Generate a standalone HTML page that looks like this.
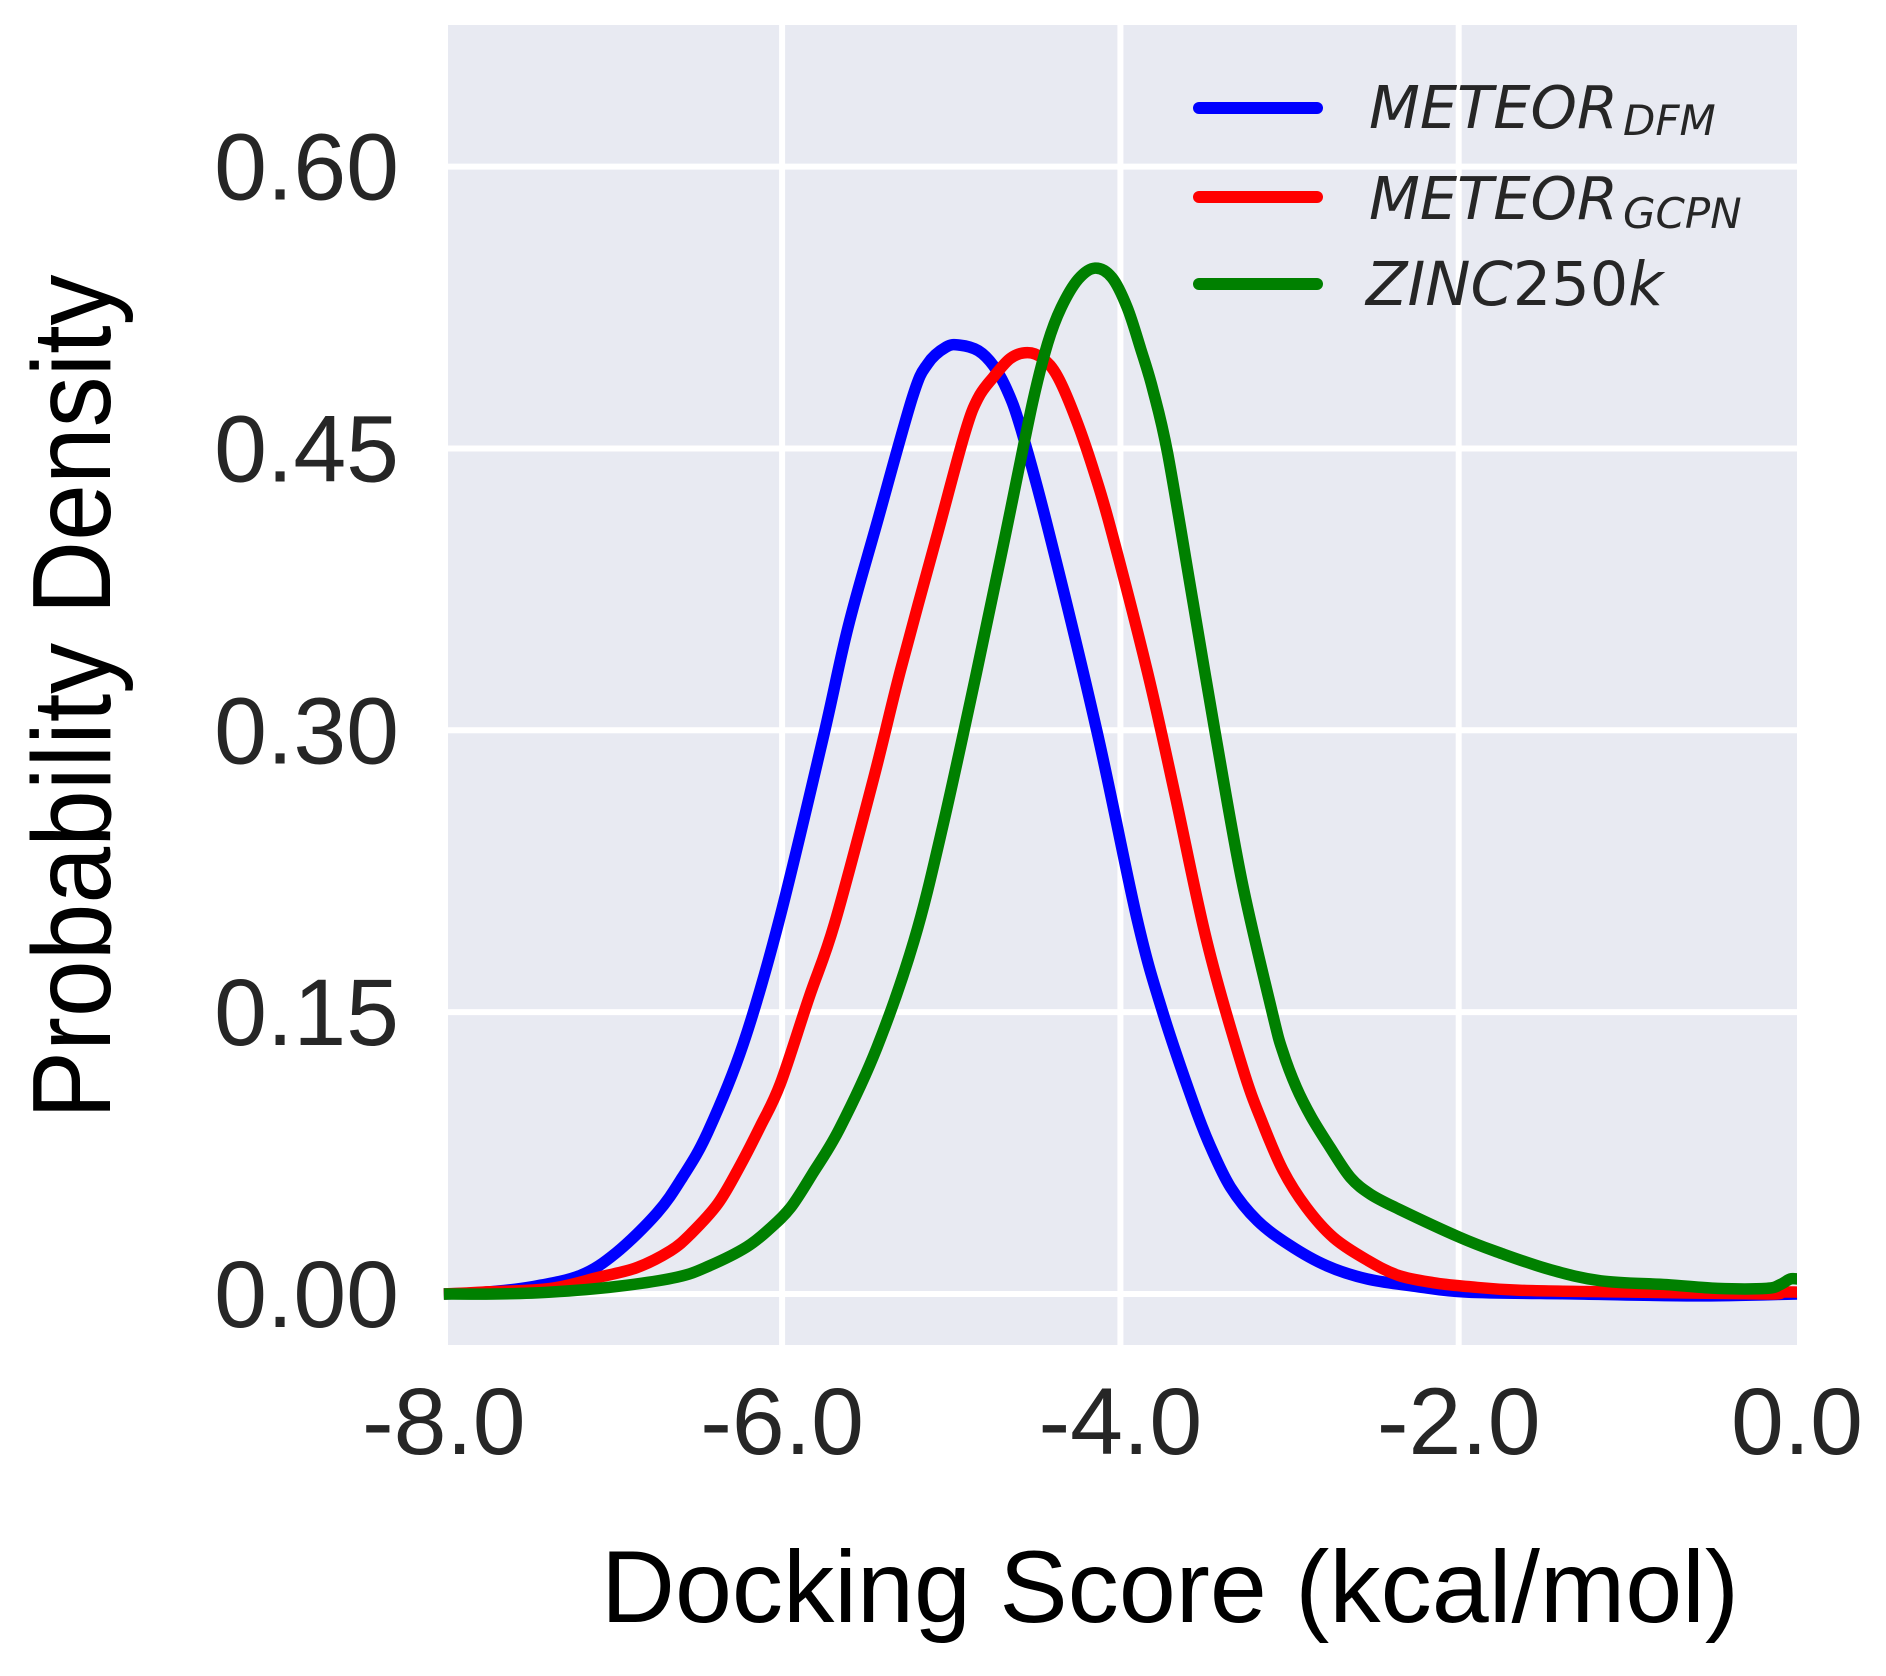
<!DOCTYPE html>
<html lang="en">
<head>
<meta charset="utf-8">
<title>Docking Score Probability Density</title>
<style>
html,body{margin:0;padding:0;background:#fff;width:1886px;height:1676px;overflow:hidden}
svg{display:block}
text{font-family:"Liberation Sans",Arial,sans-serif}
.tick{font-size:95px;fill:#262626}
.axis-title{fill:#000}
.lg{font-family:"DejaVu Sans",sans-serif;font-style:italic;fill:#262626;font-size:59px}
.lgs{font-family:"DejaVu Sans",sans-serif;font-style:italic;fill:#262626;font-size:42px}
</style>
</head>
<body>
<svg id="chart" xmlns="http://www.w3.org/2000/svg" width="1886" height="1676" viewBox="0 0 1886 1676">
  <rect x="448" y="25" width="1349" height="1320" fill="#e8eaf2"/>
  <g id="grid"></g>
  <g id="series"></g>
  <g id="xticks"></g>
  <g id="yticks"></g>
  <text class="axis-title" x="601" y="1622" font-size="102.4">Docking Score (kcal/mol)</text>
  <text class="axis-title" transform="translate(110,1119) rotate(-90) scale(1,1.09)" x="0" y="0" font-size="102">Probability Density</text>
  <g>
    <g>
      <line x1="1199" x2="1317" y1="108" y2="108" stroke="#0000ff" stroke-width="12" stroke-linecap="round"/>
      <text class="lg" x="1369" y="128">METEOR</text>
      <text class="lgs" x="1623" y="135">DFM</text>
    </g>
    <g>
      <line x1="1199" x2="1317" y1="197" y2="197" stroke="#ff0000" stroke-width="12" stroke-linecap="round"/>
      <text class="lg" x="1369" y="219">METEOR</text>
      <text class="lgs" x="1623" y="228">GCPN</text>
    </g>
    <g>
      <line x1="1199" x2="1317" y1="284" y2="284" stroke="#008000" stroke-width="12" stroke-linecap="round"/>
      <text class="lg" x="1366" y="305" style="font-size:60.5px">ZINC<tspan font-style="normal">250</tspan>k</text>
    </g>
  </g>
</svg>
<script>
const xTickValues = [-8, -6, -4, -2, 0];
const xTickLabels = ["-8.0", "-6.0", "-4.0", "-2.0", "0.0"];
const yTickValues = [0, 0.15, 0.30, 0.45, 0.60];
const yTickLabels = ["0.00", "0.15", "0.30", "0.45", "0.60"];

const dfmScores = [-8,-7.75,-7.47,-7.19,-6.98,-6.74,-6.59,-6.44,-6.23,-6.02,-5.76,-5.61,-5.44,-5.23,-5.14,-5.03,-4.95,-4.84,-4.75,-4.67,-4.59,-4.43,-4.14,-3.90,-3.75,-3.57,-3.47,-3.35,-3.19,-3.00,-2.78,-2.54,-2.25,-1.95,-1.30,-0.60,0];
const dfmDensity = [0,0.001,0.004,0.010,0.022,0.043,0.062,0.086,0.133,0.198,0.295,0.355,0.410,0.477,0.495,0.504,0.505,0.502,0.494,0.481,0.461,0.408,0.300,0.199,0.150,0.102,0.079,0.057,0.039,0.026,0.015,0.008,0.004,0.001,0,-0.001,0];

const gcpnScores = [-8,-7.77,-7.37,-7.08,-6.86,-6.66,-6.54,-6.38,-6.25,-6.13,-6.01,-5.84,-5.69,-5.46,-5.30,-5.08,-4.92,-4.84,-4.75,-4.65,-4.55,-4.46,-4.37,-4.26,-4.15,-4.05,-3.84,-3.68,-3.49,-3.28,-3.16,-3.04,-2.90,-2.74,-2.54,-2.36,-2.15,-1.95,-1.64,-0.97,-0.18,-0.10,0];
const gcpnDensity = [0,0.001,0.003,0.009,0.014,0.023,0.032,0.048,0.068,0.089,0.112,0.158,0.197,0.274,0.332,0.405,0.458,0.477,0.488,0.498,0.501,0.498,0.488,0.465,0.436,0.405,0.331,0.267,0.188,0.121,0.091,0.066,0.046,0.030,0.018,0.010,0.006,0.004,0.002,0.001,0,0.001,0.001];

const zincScores = [-8,-7.7,-7.37,-6.98,-6.62,-6.43,-6.21,-6.07,-5.95,-5.82,-5.66,-5.44,-5.22,-5.05,-4.85,-4.68,-4.52,-4.43,-4.35,-4.25,-4.15,-4.05,-3.96,-3.88,-3.81,-3.72,-3.57,-3.44,-3.28,-3.10,-3.04,-2.96,-2.87,-2.76,-2.64,-2.52,-2.35,-1.99,-1.76,-1.46,-1.16,-0.77,-0.47,-0.18,-0.10,-0.04,0];
const zincDensity = [0,0,0.001,0.004,0.009,0.015,0.025,0.035,0.046,0.064,0.088,0.131,0.188,0.249,0.331,0.404,0.474,0.506,0.525,0.540,0.546,0.541,0.525,0.503,0.482,0.447,0.368,0.299,0.219,0.149,0.129,0.110,0.094,0.078,0.062,0.053,0.045,0.030,0.022,0.013,0.007,0.005,0.003,0.003,0.005,0.008,0.008];

const SVGNS = "http://www.w3.org/2000/svg";
const xScale = function (v) { return 1797 + v * 169.15; };
const yScale = function (v) { return 1294 - v * 1879; };

const gridGroup = document.getElementById("grid");
const xTickGroup = document.getElementById("xticks");
const yTickGroup = document.getElementById("yticks");
const seriesGroup = document.getElementById("series");

xTickValues.forEach(function (v, i) {
  if (i > 0 && i < xTickValues.length - 1) {
    const line = document.createElementNS(SVGNS, "line");
    line.setAttribute("x1", xScale(v));
    line.setAttribute("x2", xScale(v));
    line.setAttribute("y1", 25);
    line.setAttribute("y2", 1345);
    line.setAttribute("stroke", "#ffffff");
    line.setAttribute("stroke-width", 6);
    
    
    gridGroup.appendChild(line);
  }

  const label = document.createElementNS(SVGNS, "text");
  label.setAttribute("x", xScale(v));
  label.setAttribute("y", 1454);
  label.setAttribute("text-anchor", "middle");
  label.setAttribute("class", "tick");
  label.textContent = xTickLabels[i];
  
  
  xTickGroup.appendChild(label);
});

yTickValues.forEach(function (v, i) {
  const line = document.createElementNS(SVGNS, "line");
  line.setAttribute("x1", 448);
  line.setAttribute("x2", 1797);
  line.setAttribute("y1", yScale(v));
  line.setAttribute("y2", yScale(v));
  line.setAttribute("stroke", "#ffffff");
  line.setAttribute("stroke-width", 6);
  
  
  gridGroup.appendChild(line);

  const label = document.createElementNS(SVGNS, "text");
  label.setAttribute("x", 399);
  label.setAttribute("y", yScale(v) + 33);
  label.setAttribute("text-anchor", "end");
  label.setAttribute("class", "tick");
  label.textContent = yTickLabels[i];
  
  
  yTickGroup.appendChild(label);
});

function drawCurve(xs, ys, color) {
  const pts = xs.map(function (x, i) {
    return [xScale(x), yScale(ys[i])];
  });
  let d = "M" + pts[0][0].toFixed(1) + " " + pts[0][1].toFixed(1);
  for (let i = 0; i < pts.length - 1; i++) {
    const p0 = pts[Math.max(i - 1, 0)];
    const p1 = pts[i];
    const p2 = pts[i + 1];
    const p3 = pts[Math.min(i + 2, pts.length - 1)];
    const c1x = p1[0] + (p2[0] - p0[0]) / 6;
    const c1y = p1[1] + (p2[1] - p0[1]) / 6;
    const c2x = p2[0] - (p3[0] - p1[0]) / 6;
    const c2y = p2[1] - (p3[1] - p1[1]) / 6;
    d += "C" + c1x.toFixed(1) + " " + c1y.toFixed(1) + " " + c2x.toFixed(1) + " " + c2y.toFixed(1) + " " + p2[0].toFixed(1) + " " + p2[1].toFixed(1);
  }
  const path = document.createElementNS(SVGNS, "path");
  path.setAttribute("d", d);
  path.setAttribute("fill", "none");
  path.setAttribute("stroke", color);
  path.setAttribute("stroke-width", 11.5);
  path.setAttribute("stroke-linejoin", "round");
  seriesGroup.appendChild(path);
  return path;
}

const dfmCurve = drawCurve(dfmScores, dfmDensity, "#0000ff");



const gcpnCurve = drawCurve(gcpnScores, gcpnDensity, "#ff0000");



const zincCurve = drawCurve(zincScores, zincDensity, "#008000");


</script>
</body>
</html>
